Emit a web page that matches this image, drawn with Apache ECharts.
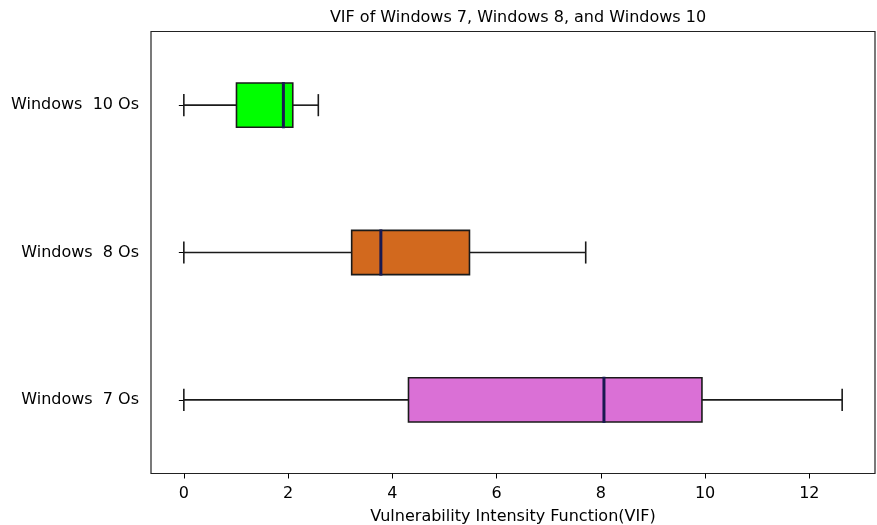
<!DOCTYPE html>
<html>
<head>
<meta charset="utf-8">
<script src="https://cdn.jsdelivr.net/npm/echarts@6/dist/echarts.min.js"></script>
<style>html,body{margin:0;padding:0;background:#fff}#c{width:877px;height:525px}</style>
</head>
<body>
<div id="c"></div>
<script>
// ---- data ----
var categories = ['Windows  7 Os', 'Windows  8 Os', 'Windows  10 Os'];
var whiskerLow = [0, 0, 0];
var q1Values = [4.31, 3.22, 1.01];
var medianValues = [8.06, 3.78, 1.91];
var q3Values = [9.94, 5.48, 2.09];
var whiskerHigh = [12.63, 7.71, 2.58];
var boxColors = ['#da70d6', '#d2691e', '#00ff00'];
var xTickValues = [0, 2, 4, 6, 8, 10, 12];

var chartTitle = 'VIF of Windows 7, Windows 8, and Windows 10';
var xAxisTitle = 'Vulnerability Intensity Function(VIF)';

var boxData = categories.map(function (c, i) {
  return [whiskerLow[i], q1Values[i], medianValues[i], q3Values[i], whiskerHigh[i], i];
});

var FONT = 'DejaVu Sans';
var chart = echarts.init(document.getElementById('c'), null, {renderer: 'canvas'});

function renderBox(params, api) {
  var ci = api.value(5);
  var band = api.size([0, 1])[1];
  var bh = band * 0.3;
  var lo = api.coord([api.value(0), ci]);
  var q1 = api.coord([api.value(1), ci]);
  var md = api.coord([api.value(2), ci]);
  var q3 = api.coord([api.value(3), ci]);
  var hi = api.coord([api.value(4), ci]);
  var y = lo[1];
  var lineStyle = {stroke: '#1a1a1a', lineWidth: 1.6};
  return {
    type: 'group',
    children: [
      {type: 'line', shape: {x1: lo[0], y1: y, x2: q1[0], y2: y}, style: lineStyle},
      {type: 'line', shape: {x1: q3[0], y1: y, x2: hi[0], y2: y}, style: lineStyle},
      {type: 'line', shape: {x1: lo[0], y1: y - bh / 4, x2: lo[0], y2: y + bh / 4}, style: lineStyle},
      {type: 'line', shape: {x1: hi[0], y1: y - bh / 4, x2: hi[0], y2: y + bh / 4}, style: lineStyle},
      {type: 'rect', shape: {x: q1[0], y: y - bh / 2, width: q3[0] - q1[0], height: bh},
        style: {fill: boxColors[ci], stroke: '#1a1a1a', lineWidth: 1.6}},
      {type: 'line', shape: {x1: md[0], y1: y - bh / 2 - 1, x2: md[0], y2: y + bh / 2 + 1},
        style: {stroke: '#191950', lineWidth: 3}}
    ]
  };
}

chart.setOption({
  animation: false,
  backgroundColor: '#fff',
  title: {
    text: chartTitle, left: 513, top: 5, textAlign: 'center',
    textStyle: {fontFamily: FONT, fontSize: 16, fontWeight: 'normal', color: '#000'}
  },
  grid: {left: 151, right: 2, top: 31.5, bottom: 51.5, outerBoundsMode: 'none', containLabel: false,
    show: true, borderColor: '#222', borderWidth: 1.2, backgroundColor: 'transparent'},
  xAxis: {
    type: 'value', min: -0.63, max: 13.26,
    name: xAxisTitle, nameLocation: 'middle', nameGap: 35,
    nameTextStyle: {fontFamily: FONT, fontSize: 16, color: '#000'},
    axisLine: {show: false},
    splitLine: {show: false},
    axisTick: {show: true, length: 5, inside: false, customValues: xTickValues, lineStyle: {color: '#000', width: 1}},
    axisLabel: {customValues: xTickValues, fontFamily: FONT, fontSize: 16, color: '#000', margin: 12}
  },
  yAxis: {
    type: 'category', data: categories,
    axisLine: {show: false},
    splitLine: {show: false},
    axisTick: {show: true, alignWithLabel: true, length: 5, lineStyle: {color: '#000', width: 1}},
    axisLabel: {fontFamily: FONT, fontSize: 16, color: '#000', margin: 12}
  },
  series: [{
    type: 'custom',
    renderItem: renderBox,
    encode: {x: [0, 1, 2, 3, 4], y: 5},
    data: boxData
  }]
});
</script>
</body>
</html>
